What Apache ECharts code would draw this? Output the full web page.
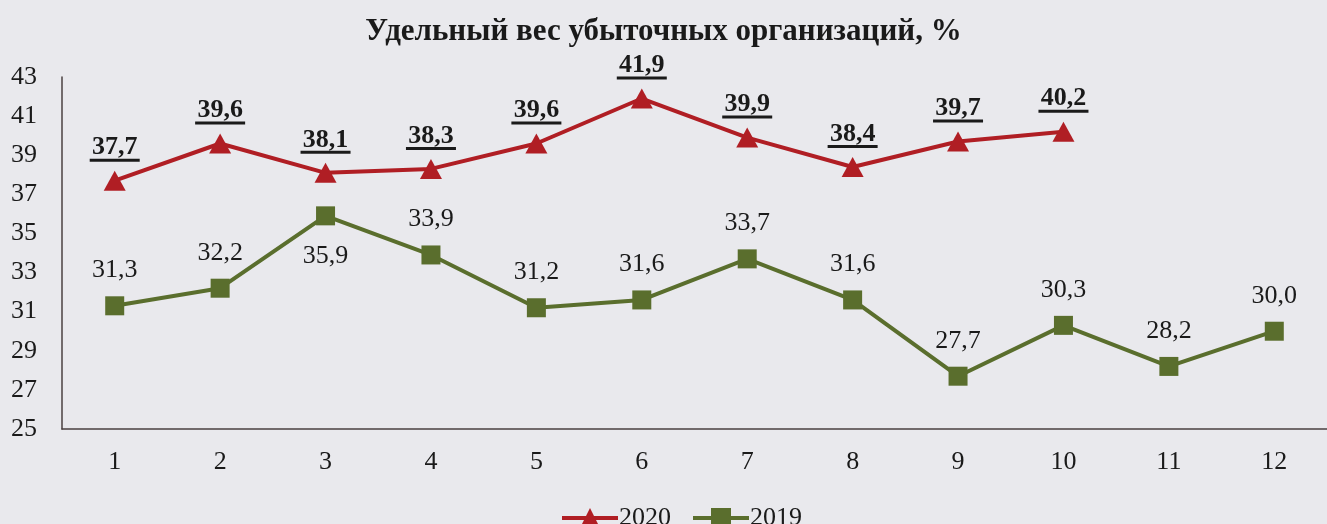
<!DOCTYPE html>
<html><head><meta charset="utf-8">
<script src="https://cdn.jsdelivr.net/npm/echarts@6/dist/echarts.min.js"></script>
<style>html,body{margin:0;padding:0;background:#e9e9ed;}#c{width:1327px;height:524px;}</style>
</head><body><div id="c"></div>
<script>
const titleText = 'Удельный вес убыточных организаций, %';
const categories = ['1','2','3','4','5','6','7','8','9','10','11','12'];
const series2020 = [37.7, 39.6, 38.1, 38.3, 39.6, 41.9, 39.9, 38.4, 39.7, 40.2];
const series2019 = [31.3, 32.2, 35.9, 33.9, 31.2, 31.6, 33.7, 31.6, 27.7, 30.3, 28.2, 30.0];
const labelsBelow2019 = [2]; // indices whose label sits below the point

const fmt = v => v.toFixed(1).replace('.', ',');
const FONT = '"Liberation Serif", "Times New Roman", serif';
const RED = '#b01e24';
const GREEN = '#5a6e2d';

const chart = echarts.init(document.getElementById('c'), null, {renderer: 'canvas'});
chart.setOption({
  backgroundColor: '#e9e9ed',
  animation: false,
  title: {
    text: titleText, left: 'center', top: 11,
    textStyle: {fontFamily: FONT, fontWeight: 'bold', fontSize: 31, color: '#1a1a1a'}
  },
  legend: {
    bottom: -12, left: 555, itemWidth: 56, itemHeight: 25, itemGap: 20,
    lineStyle: {width: 4},
    textStyle: {fontFamily: FONT, fontSize: 26, color: '#1a1a1a', padding: [0,0,0,-4]},
    data: ['2020', '2019']
  },
  grid: {left: 62, right: 0, top: 77, bottom: 95, containLabel: false},
  xAxis: {
    type: 'category', data: categories, boundaryGap: true,
    axisLine: {lineStyle: {color: '#4a4040', width: 1.5}},
    axisTick: {show: false},
    axisLabel: {fontFamily: FONT, fontSize: 26, color: '#1a1a1a', margin: 20}
  },
  yAxis: {
    type: 'value', min: 25, max: 43, interval: 2,
    axisLine: {show: true, lineStyle: {color: '#4a4040', width: 1.5}},
    axisTick: {show: false},
    splitLine: {show: false},
    axisLabel: {fontFamily: FONT, fontSize: 26, color: '#1a1a1a', margin: 25}
  },
  series: [
    {
      name: '2020', type: 'line', data: series2020,
      symbol: 'triangle', symbolSize: [22, 20],
      lineStyle: {color: RED, width: 4},
      itemStyle: {color: RED},
      label: {
        show: true, position: 'top', distance: 9,
        formatter: p => '{a|' + fmt(p.value) + '}\n{u|}',
        rich: {
          a: {fontFamily: FONT, fontWeight: 'bold', fontSize: 26, color: '#1a1a1a', lineHeight: 22, align: 'center'},
          u: {width: 50, height: 3, backgroundColor: '#1a1a1a', align: 'center'}
        }
      }
    },
    {
      name: '2019', type: 'line', data: series2019.map((v, i) => ({
        value: v,
        label: labelsBelow2019.includes(i) ? {position: 'bottom', distance: 18} : undefined
      })),
      symbol: 'rect', symbolSize: 19,
      lineStyle: {color: GREEN, width: 4},
      itemStyle: {color: GREEN},
      label: {
        show: true, position: 'top', distance: 13,
        formatter: p => fmt(p.value),
        fontFamily: FONT, fontSize: 26, color: '#1a1a1a'
      }
    }
  ]
});
</script></body></html>
